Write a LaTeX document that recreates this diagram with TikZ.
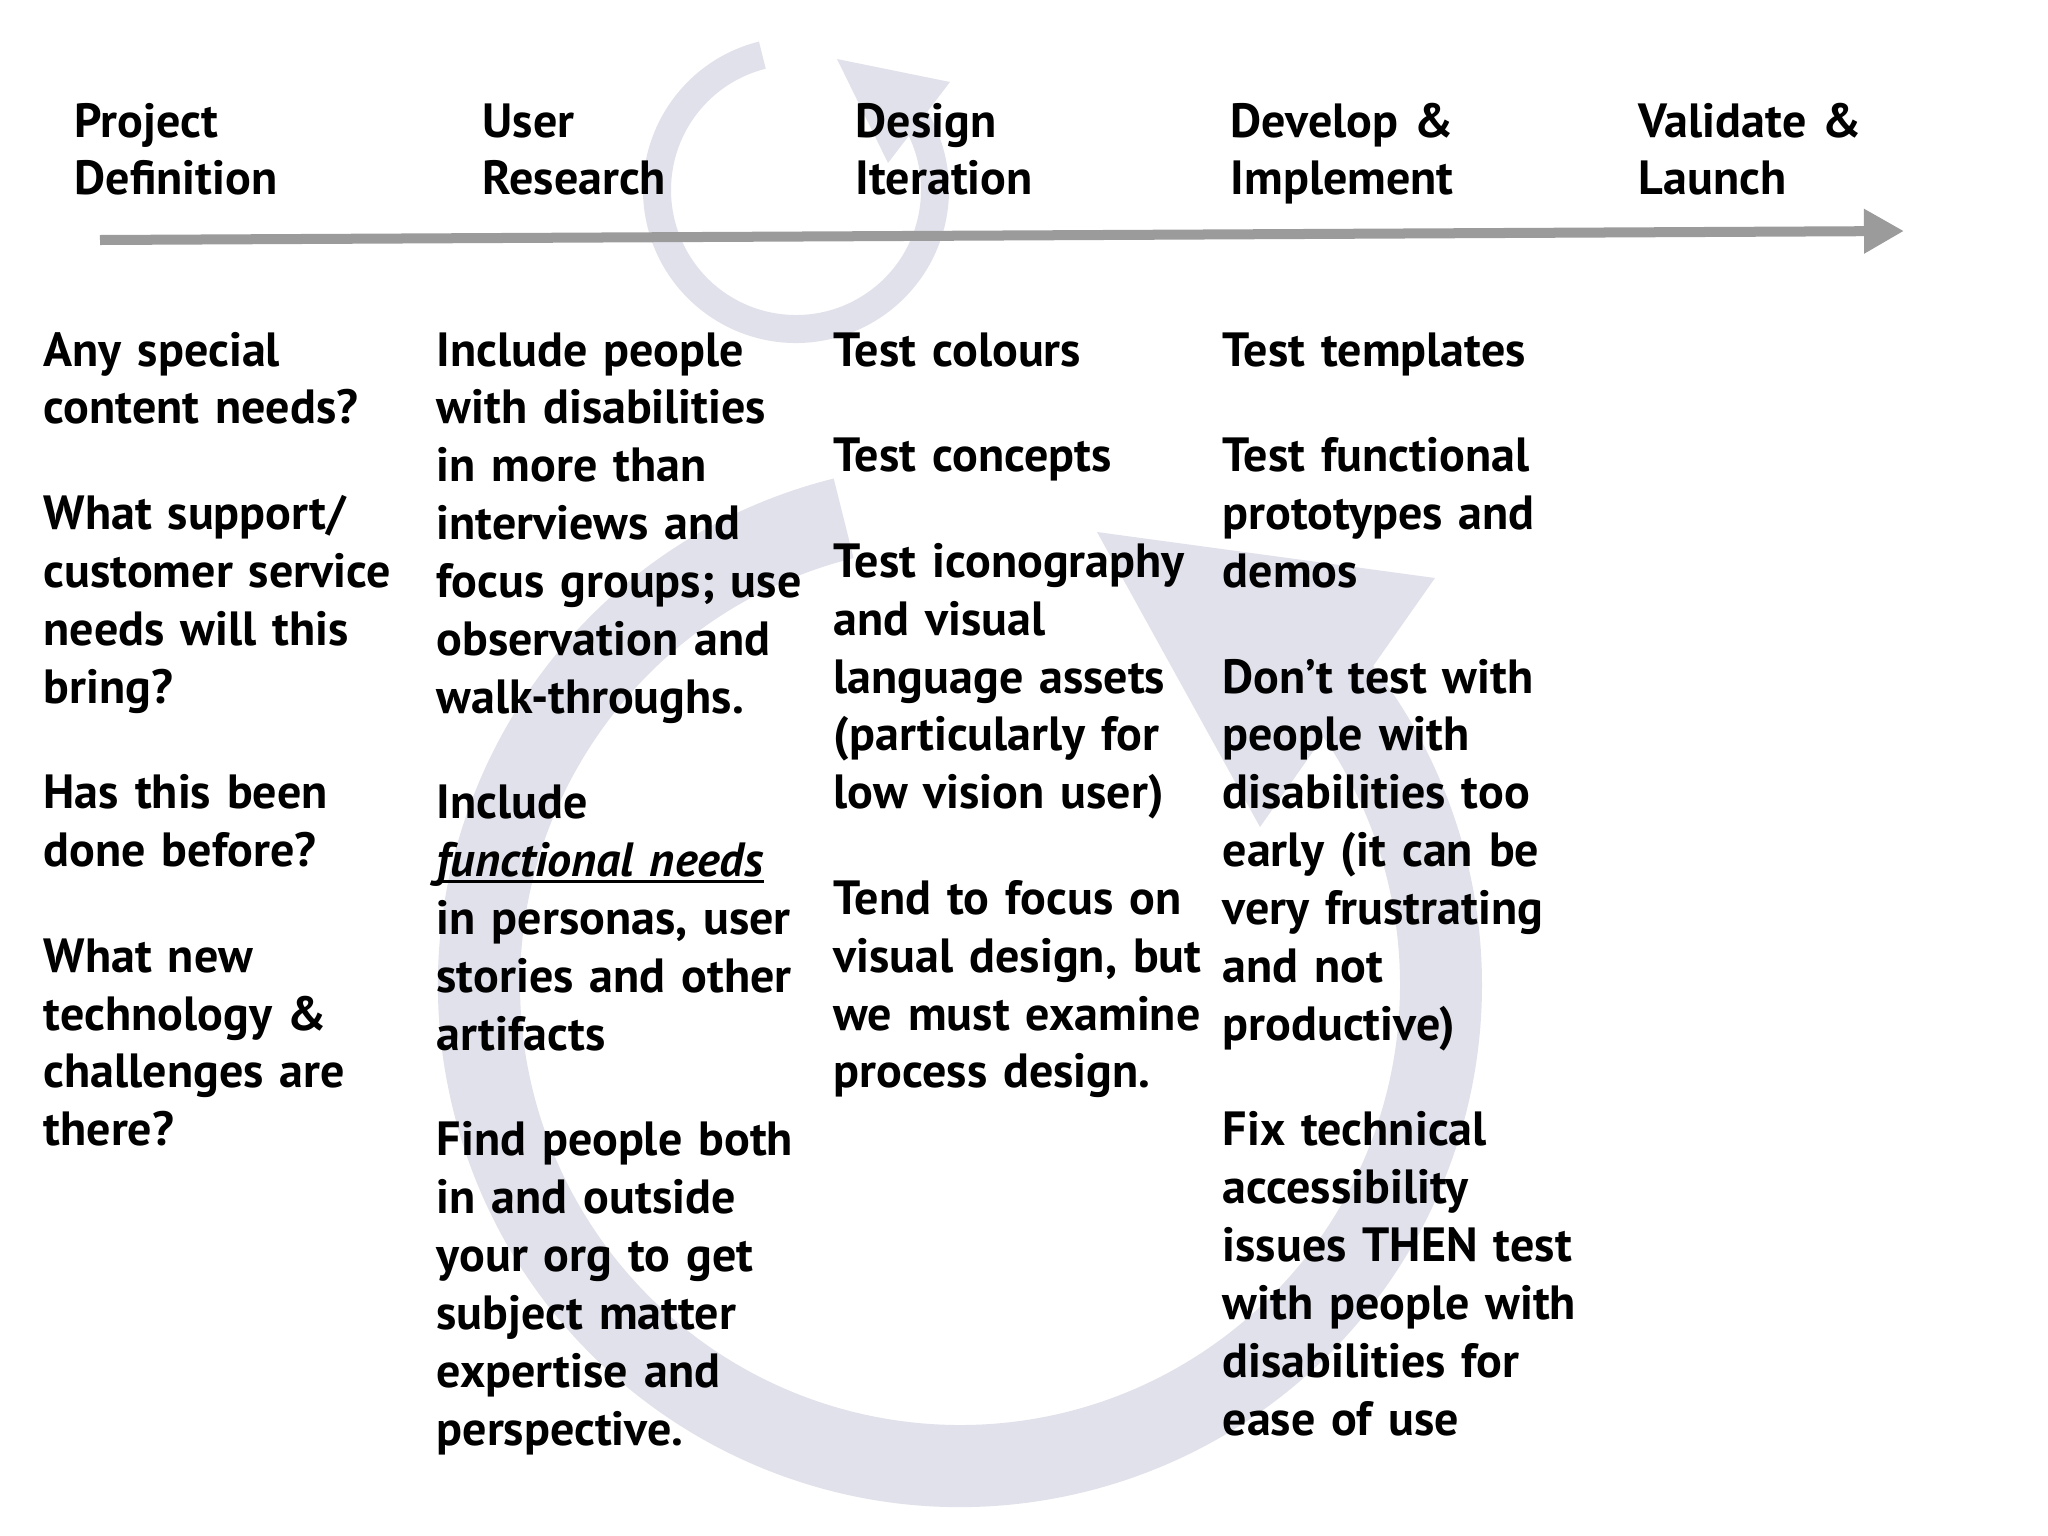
\documentclass[tikz,border=0pt]{standalone}
\usepackage{fontspec}
\setmainfont{PT Sans}[WordSpace=0.85]
\usetikzlibrary{arrows.meta,calc}
\definecolor{ringc}{RGB}{225,225,235}
\definecolor{linec}{RGB}{155,155,155}
\newcommand\myul[1]{\leavevmode\setbox0\hbox{#1}\rlap{\rule[-1.9pt]{\wd0}{0.9pt}}\box0}
\begin{document}
\begin{tikzpicture}[x=0.01cm,y=-0.01cm,
  txt/.style={anchor=base west, inner sep=0pt, align=left, text width=5cm,
    font=\fontsize{13.66pt}{16.45pt}\selectfont\bfseries},
  ring/.style={fill=ringc, draw=none},
  timeline/.style={draw=linec, line width=0.1cm, -{Triangle[length=0.4cm,width=0.42cm]}}]
\useasboundingbox (0,0) rectangle (2048,1536);
% big cycle arrow
\coordinate (bigc) at (960,985);
\fill[ring] ($(bigc)+(-104:522)$) arc[start angle=-104,end angle=-399,radius=522]
  -- ($(bigc)+(-399:440)$) arc[start angle=-399,end angle=-104,radius=440] -- cycle;
\fill[ring] (1097,532) -- (1435,578) -- (1260,827) -- cycle;
% small cycle arrow
\coordinate (smc) at (796,190);
\fill[ring] ($(smc)+(-104:153)$) arc[start angle=-104,end angle=-394,radius=153]
  -- ($(smc)+(-394:125)$) arc[start angle=-394,end angle=-104,radius=125] -- cycle;
\fill[ring] (837,59) -- (950,82) -- (888,163) -- cycle;
% timeline
\coordinate (tlS) at (100,240);
\coordinate (tlE) at (1904,231);
\draw[timeline] (tlS) -- (tlE);
% headers
\node[txt] (h1) at (74,137) {Project\\Definition};
\node[txt] (h2) at (482,137) {User\\Research};
\node[txt] (h3) at (855,137) {Design\\Iteration};
\node[txt] (h4) at (1230,137) {Develop \&\\Implement};
\node[txt] (h5) at (1638,137) {Validate \&\\Launch};
% columns
\node[txt] (c1) at (43,366) {Any special\\content needs?\\[13.6pt]
What support/\\customer service\\needs will this\\bring?\\[13.6pt]
Has this been\\done before?\\[13.6pt]
What new\\technology \&\\challenges are\\there?};
\node[txt] (c2) at (436,366) {Include people\\with disabilities\\in more than\\interviews and\\focus groups; use\\observation and\\walk-throughs.\\[13.6pt]
Include\\\myul{\textit{functional needs}}\\in personas, user\\stories and other\\artifacts\\[13.6pt]
Find people both\\in and outside\\your org to get\\subject matter\\expertise and\\perspective.};
\node[txt] (c3) at (833,366) {Test colours\\[13.6pt]
Test concepts\\[13.6pt]
Test iconography\\and visual\\language assets\\(particularly for\\low vision user)\\[13.6pt]
Tend to focus on\\visual design, but\\we must examine\\process design.};
\node[txt] (c4) at (1222,366) {Test templates\\[13.6pt]
Test functional\\prototypes and\\demos\\[13.6pt]
Don’t test with\\people with\\disabilities too\\early (it can be\\very frustrating\\and not\\productive)\\[13.6pt]
Fix technical\\accessibility\\issues THEN test\\with people with\\disabilities for\\ease of use};
\end{tikzpicture}
\end{document}
